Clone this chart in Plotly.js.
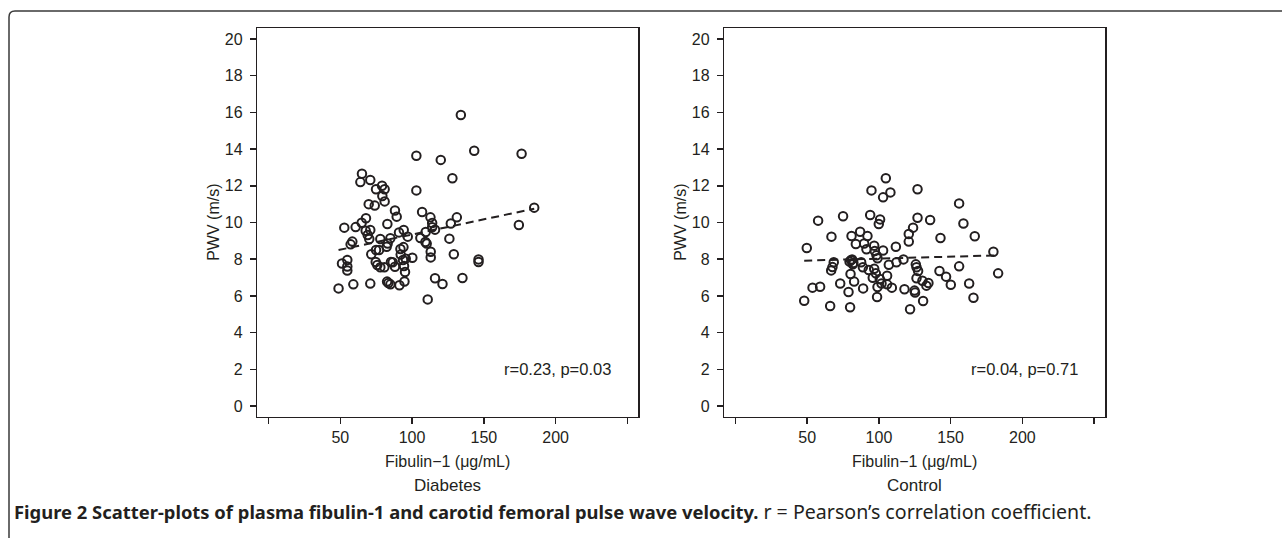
<!DOCTYPE html>
<html><head><meta charset="utf-8">
<script src="https://cdn.plot.ly/plotly-3.0.1.min.js"></script>
<style>html,body{margin:0;padding:0;background:#fff;} #chart{width:1282px;height:538px;}</style>
</head><body><div id="chart"></div>
<script>
// ---- Data ----
const diabetesFibulin = [48.8,59.1,70.9,51.2,54.9,54.9,54.9,52.8,57.2,58.4,60.7,64.9,67.9,69.8,74.0,65.1,64.0,70.9,74.9,79.1,80.9,79.3,80.9,67.7,70.9,69.1,70.2,71.6,74.9,77.0,77.9,82.8,82.3,83.0,84.9,74.7,75.8,77.9,80.7,85.3,86.5,88.1,82.6,83.5,84.9,91.2,94.7,88.1,89.3,90.9,94.2,97.0,91.9,94.0,92.1,93.7,95.6,94.4,95.1,100.2,103.0,103.0,107.0,105.8,109.3,110.2,109.5,112.8,114.0,114.0,116.0,113.0,113.0,110.9,116.0,121.2,120.0,128.1,126.0,127.0,131.2,129.1,134.0,143.3,135.1,146.3,146.3,176.3,174.4,185.1];
const diabetesPWV = [6.41,6.63,6.67,7.77,7.96,7.60,7.38,9.72,8.81,8.96,9.75,9.99,10.23,11.00,10.92,12.66,12.20,12.32,11.81,12.00,11.81,11.44,11.15,9.55,9.59,9.32,9.10,8.27,8.50,8.50,9.10,9.92,8.68,8.85,9.14,7.85,7.68,7.56,7.56,7.85,7.83,7.59,6.78,6.70,6.63,6.58,6.79,10.65,10.32,9.46,9.59,9.23,8.56,8.66,8.25,7.96,8.03,7.63,7.30,8.08,13.64,11.75,10.57,9.16,8.94,8.85,9.48,10.28,9.97,9.74,9.61,8.41,8.10,5.81,6.96,6.65,13.41,12.41,9.12,9.95,10.28,8.27,15.86,13.91,6.98,7.99,7.85,13.75,9.86,10.81];
const diabetesFitX = [48.8, 185.1];
const diabetesFitY = [8.50, 10.75];

const controlFibulin = [47.9,49.7,53.7,59.0,57.6,66.0,66.9,66.7,67.6,68.5,73.0,75.0,78.8,79.9,80.2,80.9,79.5,81.3,81.8,82.7,83.9,86.9,87.6,88.8,89.0,89.7,91.3,92.0,92.9,93.9,94.8,96.7,97.1,95.7,96.7,97.8,98.3,99.0,98.7,99.0,99.9,100.8,100.6,101.8,102.9,102.9,104.8,105.7,105.7,106.9,108.0,109.0,111.8,112.2,117.1,117.8,120.8,120.8,121.7,123.8,124.8,125.2,125.7,126.2,126.2,126.9,126.9,127.3,130.3,130.8,133.1,134.5,135.7,142.2,142.9,146.8,150.1,155.9,155.9,158.9,162.9,165.9,166.8,179.8,183.1,80.5,82.2];
const controlPWV = [5.74,8.61,6.45,6.50,10.10,5.45,9.23,7.39,7.57,7.83,6.68,10.34,6.21,5.38,7.19,9.26,7.87,7.99,7.72,6.78,8.83,9.50,7.83,7.56,6.41,8.86,8.54,9.26,7.41,10.41,11.75,8.74,8.45,6.99,7.48,7.23,8.21,8.05,5.94,6.49,9.92,10.17,6.92,6.68,11.37,8.47,12.41,7.10,6.63,7.70,11.64,6.45,8.68,7.83,7.99,6.36,9.37,8.96,5.27,9.72,6.29,6.18,7.72,7.56,6.96,11.81,10.26,7.36,6.83,5.72,6.56,6.70,10.14,7.36,9.16,7.05,6.61,11.04,7.61,9.95,6.68,5.90,9.25,8.41,7.23,7.95,7.80];
const controlFitX = [47.9, 183.1];
const controlFitY = [7.92, 8.21];

const xTickVals = [0, 50, 100, 150, 200, 250];
const xTickText = ['', '50', '100', '150', '200', ''];
const yTickVals = [0, 2, 4, 6, 8, 10, 12, 14, 16, 18, 20];
const yTickText = ['0', '2', '4', '6', '8', '10', '12', '14', '16', '18', '20'];
const panelNames = ['Diabetes', 'Control'];
const statTexts = ['r=0.23, p=0.03', 'r=0.04, p=0.71'];
const xTitle = 'Fibulin\u22121 (\u03bcg/mL)';
const yTitle = 'PWV (m/s)';
const captionBold = 'Figure 2 Scatter-plots of plasma fibulin-1 and carotid femoral pulse wave velocity.';
const captionRest = ' r = Pearson\u2019s correlation coefficient.';

// ---- Layout helpers ----
const W = 1282, H = 538;
const px = v => v / W;
const py = v => 1 - v / H;
const ink = '#231f20';
const chartFont = 'Liberation Sans, Arial, sans-serif';

const marker = {symbol: 'circle-open', size: 8.5, color: ink, line: {width: 2, color: ink}};
const fitLine = {color: ink, width: 2, dash: '8px,5px'};

const traces = [
  {x: diabetesFibulin, y: diabetesPWV, type: 'scatter', mode: 'markers', marker: marker, xaxis: 'x', yaxis: 'y', hoverinfo: 'skip'},
  {x: diabetesFitX, y: diabetesFitY, type: 'scatter', mode: 'lines', line: fitLine, xaxis: 'x', yaxis: 'y', hoverinfo: 'skip'},
  {x: controlFibulin, y: controlPWV, type: 'scatter', mode: 'markers', marker: marker, xaxis: 'x2', yaxis: 'y2', hoverinfo: 'skip'},
  {x: controlFitX, y: controlFitY, type: 'scatter', mode: 'lines', line: fitLine, xaxis: 'x2', yaxis: 'y2', hoverinfo: 'skip'}
];

const panels = [{l: 257.3, r: 638.3}, {l: 724.3, r: 1105}];
const plotTop = 28.3, plotBottom = 416.7;

function xAxis(i) {
  return {
    domain: [px(panels[i].l), px(panels[i].r)],
    range: [-7.8, 257.6],
    tickvals: xTickVals, ticktext: xTickText,
    ticks: 'outside', ticklen: 6, tickwidth: 1.5, tickcolor: ink,
    showline: true, linecolor: ink, linewidth: 1.5, mirror: true,
    showgrid: false, zeroline: false,
    tickfont: {family: chartFont, size: 16, color: ink},
    anchor: i === 0 ? 'y' : 'y2', fixedrange: true
  };
}
function yAxis(i) {
  return {
    domain: [py(plotBottom), py(plotTop)],
    range: [-0.58, 20.58],
    tickvals: yTickVals, ticktext: yTickText,
    ticks: 'outside', ticklen: 6, tickwidth: 1.5, tickcolor: ink,
    ticklabelstandoff: 4,
    showline: true, linecolor: ink, linewidth: 1.5, mirror: true,
    showgrid: false, zeroline: false,
    tickfont: {family: chartFont, size: 16, color: ink},
    anchor: i === 0 ? 'x' : 'x2', fixedrange: true
  };
}

const annotations = [];
panels.forEach((p, i) => {
  const cx = (p.l + p.r) / 2;
  annotations.push({xref: 'paper', yref: 'paper', x: px(cx), y: py(461), text: xTitle, showarrow: false,
    xanchor: 'center', yanchor: 'middle', font: {family: chartFont, size: 16, color: ink}});
  annotations.push({xref: 'paper', yref: 'paper', x: px(cx), y: py(485), text: panelNames[i], showarrow: false,
    xanchor: 'center', yanchor: 'middle', font: {family: chartFont, size: 17, color: ink}});
  annotations.push({xref: 'paper', yref: 'paper', x: px(p.l - 44), y: py((plotTop + plotBottom) / 2), text: yTitle, showarrow: false,
    textangle: -90, xanchor: 'center', yanchor: 'middle', font: {family: chartFont, size: 16, color: ink}});
  annotations.push({xref: i === 0 ? 'x' : 'x2', yref: i === 0 ? 'y' : 'y2', x: 240, y: 2, text: statTexts[i], showarrow: false,
    xanchor: 'right', yanchor: 'middle', font: {family: chartFont, size: 16.5, color: ink}});
});
annotations.push({xref: 'paper', yref: 'paper', x: px(12), y: py(511), xanchor: 'left', yanchor: 'middle', showarrow: false,
  text: '<b>' + captionBold + '</b><span style="font-size:19.6px">' + captionRest + '</span>',
  font: {family: 'Noto Sans, sans-serif', size: 18.4, color: ink}});

// rounded frame (left and top edges)
const fx = 9, fy = 11, rad = 6;
const framePath = `M ${px(fx)} ${py(H + 2)} L ${px(fx)} ${py(fy + rad)} Q ${px(fx)} ${py(fy)} ${px(fx + rad)} ${py(fy)} L ${px(W + 2)} ${py(fy)}`;

const layout = {
  width: W, height: H,
  margin: {l: 0, r: 0, t: 0, b: 0},
  paper_bgcolor: '#ffffff', plot_bgcolor: '#ffffff',
  showlegend: false,
  xaxis: xAxis(0), yaxis: yAxis(0), xaxis2: xAxis(1), yaxis2: yAxis(1),
  annotations: annotations,
  shapes: [{type: 'path', xref: 'paper', yref: 'paper', path: framePath, line: {color: '#3a3a3a', width: 1.5}}]
};

Plotly.newPlot('chart', traces, layout, {staticPlot: true, displayModeBar: false});
</script>
</body></html>
